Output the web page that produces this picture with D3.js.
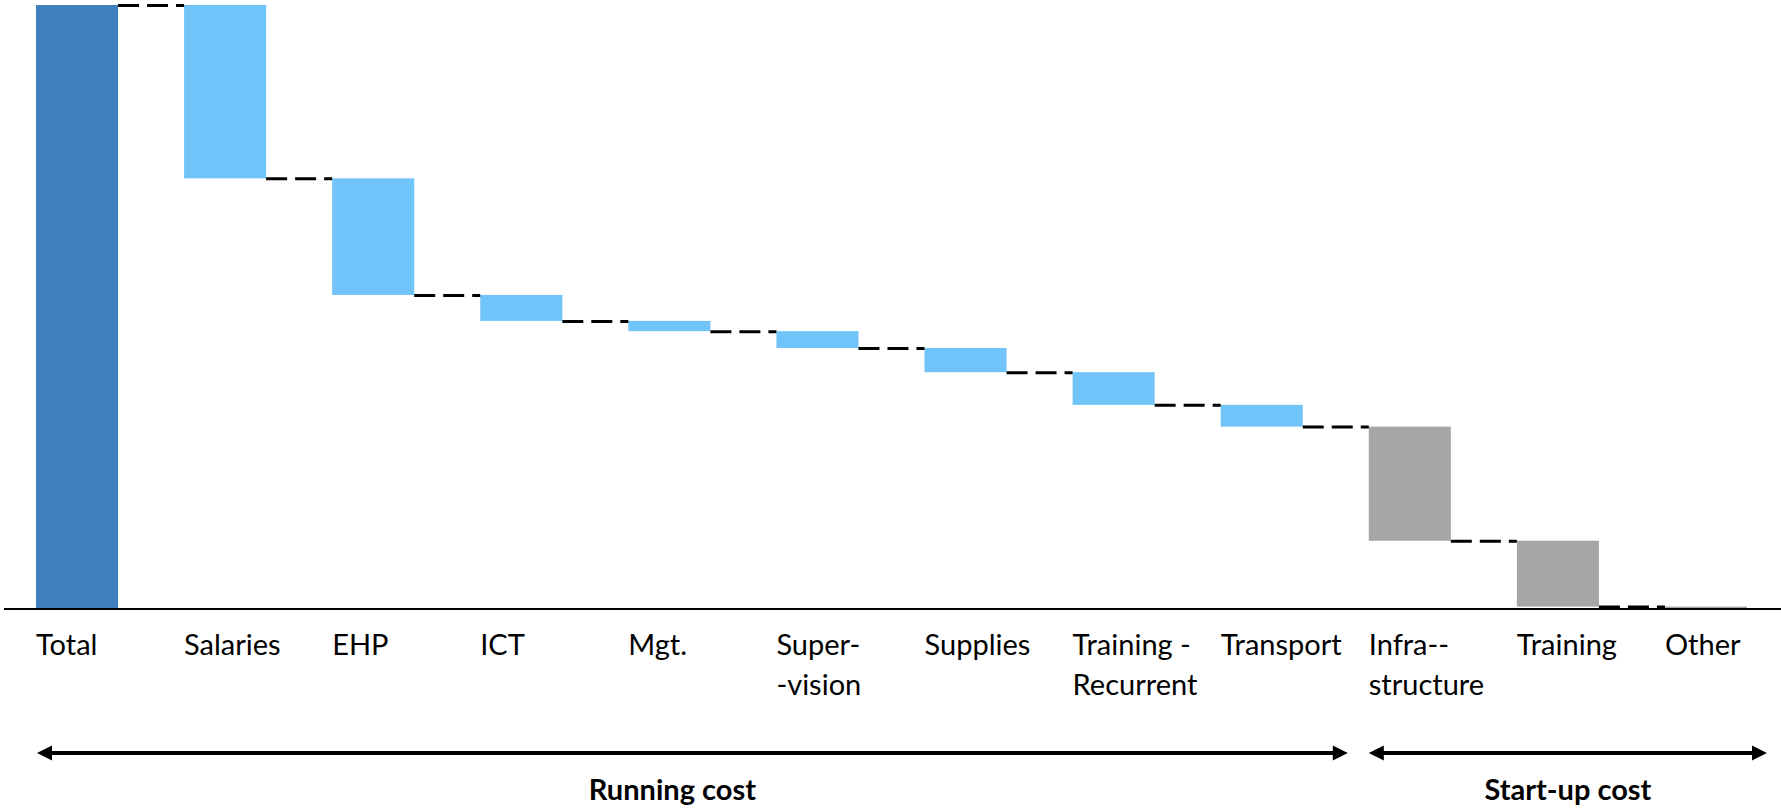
<!DOCTYPE html>
<html>
<head>
<meta charset="utf-8">
<script src="https://cdn.jsdelivr.net/npm/d3@7"></script>
<style>
  html, body { margin: 0; padding: 0; background: #ffffff; }
  svg { display: block; }
  text { font-family: Lato, "Open Sans", sans-serif; fill: #000; }
</style>
</head>
<body>
<svg id="chart" width="1781" height="808"></svg>
<script>
// Cost categories, left to right
const categories = ["Total", "Salaries", "EHP", "ICT", "Mgt.", "Supervision", "Supplies",
  "Training - Recurrent", "Transport", "Infrastructure", "Training", "Other"];

// Axis labels, split over lines as printed
const tickLabels = [["Total"], ["Salaries"], ["EHP"], ["ICT"], ["Mgt."], ["Super-", "-vision"],
  ["Supplies"], ["Training -", "Recurrent"], ["Transport"], ["Infra--", "structure"],
  ["Training"], ["Other"]];

// Share of total cost (%) for each component after "Total"
const costValues = [28.7, 19.3, 4.3, 1.7, 2.8, 4.0, 5.4, 3.6, 18.9, 10.9, 0.4];

// Cost type of each component
const costGroups = ["running", "running", "running", "running", "running", "running",
  "running", "running", "startup", "startup", "startup"];

// Bracket labels underneath the axis
const groupLabels = ["Running cost", "Start-up cost"];

const colors = { total: "#3e81bd", running: "#70c4f9", startup: "#a6a6a6" };

const total = d3.sum(costValues);

// Build waterfall segments: total column followed by descending steps
const segments = [{ name: categories[0], group: "total", top: total, bottom: 0 }];
let level = total;
costValues.forEach((v, i) => {
  segments.push({ name: categories[i + 1], group: costGroups[i], top: level, bottom: level - v });
  level -= v;
});

const svg = d3.select("#chart");

const x = d3.scaleBand()
  .domain(categories)
  .range([36, 1747])
  .paddingInner(0.446)
  .paddingOuter(0);

const y = d3.scaleLinear()
  .domain([0, total])
  .range([609, 5]);

const bw = x.bandwidth();

// Bars
svg.append("g")
  .selectAll("rect")
  .data(segments)
  .join("rect")
  .attr("x", d => x(d.name))
  .attr("y", d => y(d.top))
  .attr("width", bw)
  .attr("height", d => Math.max(0, y(d.bottom) - y(d.top)))
  .attr("fill", d => colors[d.group]);

// Dashed connectors between consecutive bars
const links = d3.pairs(segments).map(([a, b]) => ({
  x1: x(a.name) + bw,
  x2: x(b.name),
  level: b.top
}));

svg.append("g")
  .selectAll("line")
  .data(links)
  .join("line")
  .attr("x1", d => d.x1)
  .attr("x2", d => d.x2)
  .attr("y1", d => y(d.level) + 0.5)
  .attr("y2", d => y(d.level) + 0.5)
  .attr("stroke", "#000")
  .attr("stroke-width", 3)
  .attr("stroke-dasharray", "21,8");

// Baseline
svg.append("line")
  .attr("x1", 4)
  .attr("x2", 1781)
  .attr("y1", y(0))
  .attr("y2", y(0))
  .attr("stroke", "#000")
  .attr("stroke-width", 2.2);

// Category labels, left aligned to each bar
const labelG = svg.append("g")
  .selectAll("text")
  .data(categories)
  .join("text")
  .attr("x", d => x(d))
  .attr("y", 655)
  .attr("font-size", 29);

labelG.selectAll("tspan")
  .data((d, i) => tickLabels[i])
  .join("tspan")
  .attr("x", function () { return d3.select(this.parentNode).attr("x"); })
  .attr("dy", (d, i) => i === 0 ? 0 : 40)
  .text(d => d);

// Double-headed bracket arrows
const arrowY = 753;
const runStart = x("Total") + 1;
const runEnd = x("Infrastructure") - 21;
const startStart = x("Infrastructure");
const startEnd = x("Other") + bw + 20;

function arrow(x1, x2) {
  const g = svg.append("g");
  const head = 15, half = 7.5;
  g.append("line")
    .attr("x1", x1 + head - 2).attr("x2", x2 - head + 2)
    .attr("y1", arrowY).attr("y2", arrowY)
    .attr("stroke", "#000").attr("stroke-width", 4);
  g.append("path")
    .attr("d", `M${x1},${arrowY} L${x1 + head},${arrowY - half} L${x1 + head},${arrowY + half} Z`)
    .attr("fill", "#000");
  g.append("path")
    .attr("d", `M${x2},${arrowY} L${x2 - head},${arrowY - half} L${x2 - head},${arrowY + half} Z`)
    .attr("fill", "#000");
}
arrow(runStart, runEnd);
arrow(startStart, startEnd);

// Group captions
const runCenter = (x("Total") + x("Transport") + bw) / 2 + 3;
const startCenter = (startStart + startEnd) / 2;

svg.append("g")
  .selectAll("text")
  .data([runCenter, startCenter])
  .join("text")
  .attr("x", d => d)
  .attr("y", 800)
  .attr("text-anchor", "middle")
  .attr("font-size", 29)
  .attr("font-weight", "bold")
  .text((d, i) => groupLabels[i]);
</script>
</body>
</html>
